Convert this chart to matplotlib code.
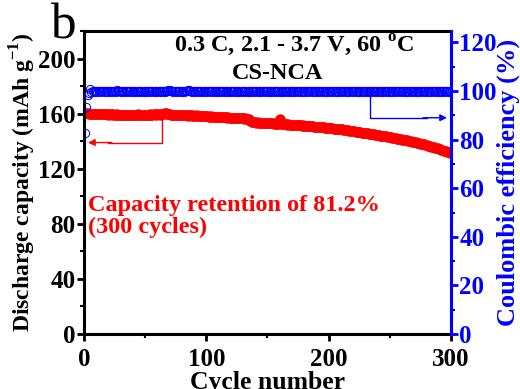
import matplotlib
matplotlib.use("Agg")
import matplotlib.pyplot as plt
from matplotlib.ticker import MultipleLocator

plt.rcParams["font.family"] = ["Liberation Serif", "DejaVu Serif"]
plt.rcParams["font.weight"] = "bold"
plt.rcParams["mathtext.fontset"] = "custom"
plt.rcParams["mathtext.rm"] = "Liberation Serif:bold"
plt.rcParams["mathtext.bf"] = "Liberation Serif:bold"

# discharge capacity (mAh/g), cycles 1-300
capacity = [
    160.6, 160.3, 160.1, 160.0, 159.9, 160.0, 159.8, 159.9, 159.7, 159.8,
    159.6, 159.7, 159.5, 159.6, 159.4, 159.5, 159.6, 159.4, 159.5, 159.3,
    159.4, 159.5, 159.3, 159.4, 159.2, 159.3, 159.4, 159.2, 159.3, 159.1,
    159.2, 159.3, 159.1, 159.2, 159.3, 159.1, 159.2, 159.0, 159.1, 159.2,
    159.3, 159.1, 159.2, 159.4, 159.2, 159.3, 159.1, 159.2, 159.3, 159.2,
    159.1, 159.3, 159.2, 159.4, 159.3, 159.2, 159.4, 159.5, 159.3, 159.4,
    159.5, 159.3, 159.4, 159.6, 159.8, 160.1, 160.3, 160.0, 159.7, 159.5,
    159.3, 159.1, 159.2, 159.0, 158.9, 159.1, 158.8, 158.9, 159.0, 158.7,
    158.8, 158.9, 158.7, 158.8, 158.6, 158.7, 158.9, 158.6, 158.7, 158.5,
    158.6, 158.7, 158.4, 158.5, 158.6, 158.3, 158.4, 158.5, 158.2, 158.3,
    158.1, 157.9, 157.8, 158.0, 157.7, 157.8, 157.6, 157.7, 157.5, 157.6,
    157.4, 157.5, 157.3, 157.4, 157.2, 157.3, 157.1, 157.2, 157.0, 157.1,
    156.9, 157.0, 156.8, 156.9, 156.7, 156.8, 156.6, 156.7, 156.5, 156.6,
    156.4, 156.5, 156.3, 156.4, 155.8, 154.6, 153.9, 153.7, 153.8, 153.6,
    153.5, 153.6, 153.4, 153.5, 153.3, 153.4, 153.2, 153.3, 153.1, 153.2,
    153.0, 153.1, 152.9, 153.0, 152.8, 152.9, 152.7, 152.8, 152.6, 156.3,
    152.5, 152.4, 152.3, 152.4, 152.2, 152.1, 152.2, 152.0, 151.9, 152.0,
    151.8, 151.7, 151.8, 151.6, 151.5, 151.6, 151.4, 151.3, 151.4, 151.2,
    151.1, 151.0, 151.1, 150.9, 150.8, 150.7, 150.8, 150.6, 150.5, 150.4,
    150.5, 150.3, 150.2, 150.1, 150.2, 150.0, 149.9, 149.8, 149.7, 149.6,
    149.5, 149.4, 149.3, 149.2, 149.1, 149.0, 148.9, 148.8, 148.7, 148.6,
    148.5, 148.3, 148.2, 148.1, 147.9, 147.8, 147.7, 147.5, 147.4, 147.3,
    147.1, 147.0, 146.9, 146.7, 146.6, 146.5, 146.3, 146.2, 146.1, 145.9,
    145.8, 145.6, 145.5, 145.3, 145.2, 145.0, 144.9, 144.7, 144.6, 144.4,
    144.3, 144.1, 144.0, 143.8, 143.7, 143.5, 143.4, 143.2, 143.0, 142.9,
    142.7, 142.6, 142.4, 142.2, 142.1, 141.9, 141.7, 141.6, 141.4, 141.2,
    141.0, 140.9, 140.7, 140.5, 140.3, 140.1, 139.9, 139.7, 139.5, 139.3,
    139.1, 138.9, 138.7, 138.5, 138.3, 138.0, 137.8, 137.6, 137.3, 137.1,
    136.8, 136.6, 136.3, 136.1, 135.8, 135.5, 135.3, 135.0, 134.7, 134.4,
    134.1, 133.8, 133.5, 133.2, 132.9, 132.6, 132.3, 132.0, 131.7, 131.4,
]

# coulombic efficiency (%), cycles 1-300
efficiency = [
    82.7, 93.4, 98.4, 99.3, 101.0, 99.8, 100.1, 99.7, 99.9, 100.0,
    99.8, 99.9, 100.0, 99.7, 99.9, 100.1, 99.8, 99.9, 100.0, 99.8,
    99.9, 100.0, 99.8, 99.9, 100.1, 99.8, 100.4, 100.2, 99.9, 99.8,
    99.9, 100.0, 99.8, 99.9, 100.0, 99.7, 99.9, 100.0, 99.8, 99.9,
    100.0, 99.8, 99.9, 100.1, 99.8, 99.9, 100.0, 99.8, 99.9, 100.0,
    99.8, 99.9, 100.0, 99.7, 99.9, 100.0, 99.8, 99.9, 100.1, 99.8,
    99.9, 100.0, 99.8, 99.9, 100.0, 99.8, 99.9, 100.1, 100.3, 100.6,
    100.2, 99.9, 99.8, 99.9, 100.0, 99.8, 99.9, 100.0, 99.8, 99.9,
    100.0, 99.8, 99.9, 100.2, 100.6, 100.3, 99.9, 99.8, 99.9, 100.0,
    99.8, 99.9, 100.0, 99.8, 99.9, 100.1, 99.8, 99.9, 100.0, 99.8,
    99.9, 100.0, 99.8, 99.9, 100.0, 99.7, 99.9, 100.0, 99.8, 99.9,
    100.0, 99.8, 99.9, 100.1, 99.8, 99.9, 100.0, 99.8, 99.9, 100.0,
    99.8, 99.9, 100.0, 99.8, 99.9, 100.1, 99.8, 99.9, 100.0, 99.8,
    99.9, 100.0, 99.8, 99.9, 100.0, 99.7, 99.9, 100.0, 99.8, 99.9,
    100.0, 99.8, 99.9, 100.1, 99.8, 99.9, 100.0, 99.8, 99.9, 100.0,
    99.8, 99.9, 100.0, 99.8, 99.9, 100.1, 99.8, 99.9, 100.0, 99.8,
    99.9, 100.0, 99.8, 99.9, 100.0, 99.7, 99.9, 100.0, 99.8, 99.9,
    100.0, 99.8, 99.9, 100.1, 99.8, 99.9, 100.0, 99.8, 99.9, 100.0,
    99.8, 99.9, 100.0, 99.8, 99.9, 100.1, 99.8, 99.9, 100.0, 99.8,
    99.9, 100.0, 99.8, 99.9, 100.0, 99.7, 99.9, 100.0, 99.8, 99.9,
    100.0, 99.8, 99.9, 100.1, 99.8, 99.9, 100.0, 99.8, 99.9, 100.0,
    99.8, 99.9, 100.0, 99.8, 99.9, 100.1, 99.8, 99.9, 100.0, 99.8,
    99.9, 100.0, 99.8, 99.9, 100.0, 99.7, 99.9, 100.0, 99.8, 99.9,
    100.0, 99.8, 99.9, 100.1, 99.8, 99.9, 100.0, 99.8, 99.9, 100.0,
    99.8, 99.9, 100.0, 99.8, 99.9, 100.1, 99.8, 99.9, 100.0, 99.8,
    99.9, 100.0, 99.8, 99.9, 100.0, 99.7, 99.9, 100.0, 99.8, 99.9,
    100.0, 99.8, 99.9, 100.1, 99.8, 99.9, 100.0, 99.8, 99.9, 100.0,
    99.8, 99.9, 100.0, 99.8, 99.9, 100.1, 99.8, 99.9, 100.0, 99.8,
    99.9, 100.0, 99.8, 99.9, 100.0, 99.7, 99.9, 100.0, 99.8, 99.9,
    100.0, 99.8, 99.9, 100.1, 99.8, 99.9, 100.0, 99.8, 99.9, 99.6,
]

cycles = list(range(1, len(capacity) + 1))

fig = plt.figure(figsize=(5.2, 3.89), dpi=100)
ax = fig.add_axes([0.1615, 0.1414, 0.7058, 0.7789])
ax2 = ax.twinx()

ax.plot(cycles, capacity, "o", color="red", markersize=6.5, markeredgewidth=1)
ax2.plot(cycles, efficiency, "o", color="blue", markerfacecolor="none",
         markersize=6, markeredgewidth=0.7)

ax.set_xlim(0, 300)
ax.set_ylim(0, 220)
ax2.set_ylim(0, 124.7)

ax.xaxis.set_major_locator(MultipleLocator(100))
ax.xaxis.set_minor_locator(MultipleLocator(50))
ax.yaxis.set_major_locator(MultipleLocator(40))
ax.yaxis.set_minor_locator(MultipleLocator(20))
ax2.yaxis.set_major_locator(MultipleLocator(20))
ax2.yaxis.set_minor_locator(MultipleLocator(10))

for a in (ax, ax2):
    for s in a.spines.values():
        s.set_linewidth(2.2)
ax2.spines["right"].set_color("blue")
ax2.spines["left"].set_visible(False)
ax2.spines["bottom"].set_visible(False)
ax2.spines["top"].set_visible(False)

ax.tick_params(which="major", direction="out", length=5, width=2, labelsize=18, pad=1)
ax.tick_params(axis="x", which="major", pad=5)
ax.tick_params(which="minor", direction="out", length=3, width=1.5)
ax2.tick_params(which="major", direction="out", length=5, width=2, labelsize=18,
                colors="blue", pad=1)
ax2.tick_params(which="minor", direction="out", length=3, width=1.5, colors="blue")

ax.set_xlabel("Cycle number", fontsize=18.5, fontweight="bold", labelpad=0)
ax.set_ylabel("Discharge capacity (mAh g$^{-1}$)", fontsize=17, fontweight="bold", labelpad=0)
ax2.set_ylabel("Coulombic efficiency (%)", fontsize=19, fontweight="bold",
               color="blue", labelpad=0)

# annotations
ax.text(171.5, 0.993, "0.3 C, 2.1 - 3.7 V, 60 $^{\\mathbf{o}}$C",
        transform=ax.get_xaxis_transform(),
        ha="center", va="top", fontsize=17.5, fontweight="bold")
ax.text(158.5, 0.895, "CS-NCA", transform=ax.get_xaxis_transform(),
        ha="center", va="top", fontsize=17.5, fontweight="bold")
ax.text(0.012, 0.46, "Capacity retention of 81.2%\n(300 cycles)", transform=ax.transAxes,
        ha="left", va="top", fontsize=17.5, fontweight="bold", color="red",
        linespacing=1.05)
fig.text(0.097, 0.992, "b", ha="left", va="top", fontsize=37, fontweight="normal")

# arrows pointing to the axes
ax.plot([64, 64, 20], [159.5, 139, 139], color="red", lw=1)
ax.annotate("", xy=(1, 139), xytext=(25, 139),
            arrowprops=dict(arrowstyle="-|>", color="red", lw=1, mutation_scale=10))
ax2.plot([234, 234, 280], [99.5, 89, 89], color="blue", lw=1)
ax2.annotate("", xy=(299, 89), xytext=(275, 89),
             arrowprops=dict(arrowstyle="-|>", color="blue", lw=1, mutation_scale=10))

fig.savefig("out.png", dpi=100)
